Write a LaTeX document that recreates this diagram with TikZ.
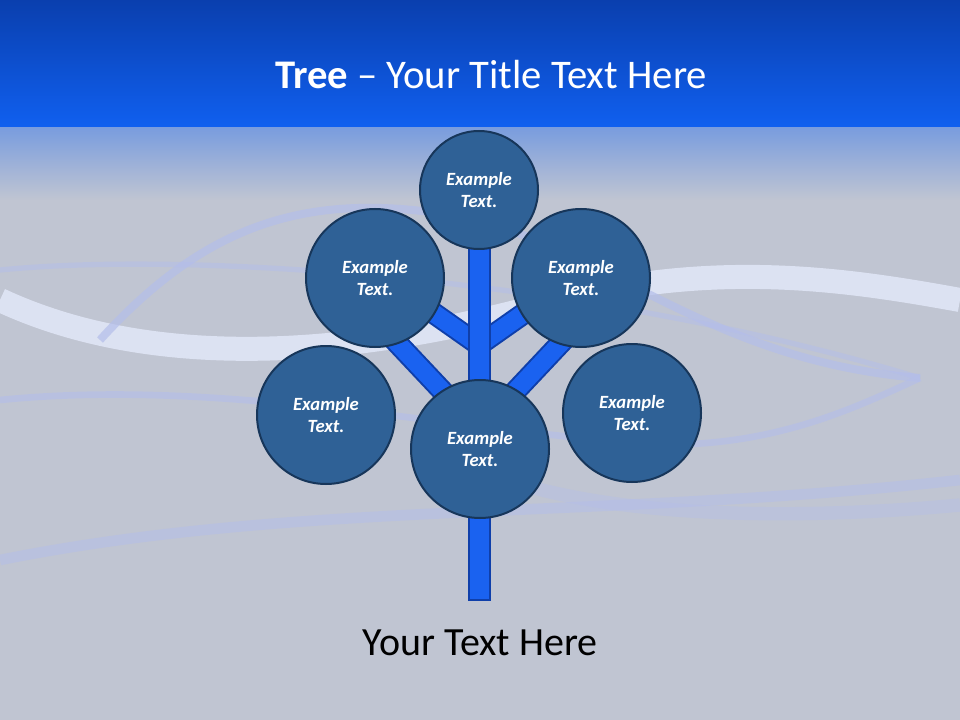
\documentclass[tikz,border=0pt]{standalone}
\usepackage{fontspec}
\setmainfont{Carlito}
\definecolor{bgg}{HTML}{C0C5D2}
\definecolor{topb}{HTML}{0A3FAE}
\definecolor{midb}{HTML}{1060F0}
\definecolor{cfill}{HTML}{2F6196}
\definecolor{cline}{HTML}{17365A}
\definecolor{bright}{HTML}{1A62F0}
\definecolor{bdark}{HTML}{0F3FAA}
\definecolor{wave}{HTML}{E4EAFB}
\definecolor{wave2}{HTML}{B4BEEA}
\begin{document}
\begin{tikzpicture}[x=0.75pt,y=-0.75pt,
  bubble/.style={circle,draw=cline,line width=1.5pt,fill=cfill,text=white,
    font=\fontsize{14}{17}\selectfont\bfseries\itshape,align=center,inner sep=0pt},
  limb/.style={draw=bdark,line width=16.5pt,line cap=butt},
  limbin/.style={draw=bright,line width=13.5pt,line cap=butt}]
\useasboundingbox (0,0) rectangle (960,720);
\fill[bgg] (0,0) rectangle (960,720);
\shade[top color=topb,bottom color=midb] (0,0) rectangle (960,128);
\shade[top color=midb!40!bgg,bottom color=bgg] (0,128) rectangle (960,200);
% waves
\draw[wave,line width=18pt,opacity=0.8] (0,300) .. controls (150,370) and (350,360) .. (560,300) .. controls (720,260) and (850,280) .. (960,300);
\draw[wave2,line width=6pt,opacity=0.7] (100,340) .. controls (200,230) and (300,190) .. (450,215) .. controls (600,240) and (700,360) .. (920,378);
\draw[wave2,line width=5pt,opacity=0.6] (0,400) .. controls (200,380) and (400,420) .. (600,440) .. controls (750,460) and (850,410) .. (920,378);
\draw[wave2,line width=8pt,opacity=0.5] (0,560) .. controls (300,500) and (600,520) .. (960,480);
\draw[wave2,line width=4pt,opacity=0.5] (0,270) .. controls (200,250) and (600,280) .. (920,378);
\draw[wave2,line width=10pt,opacity=0.4] (480,470) .. controls (600,520) and (800,520) .. (960,505);
% tree
\coordinate (ua) at (479,345);
\coordinate (ul) at (415,300);
\coordinate (ur) at (543,300);
\coordinate (la) at (465,415);
\coordinate (ll) at (385,330);
\coordinate (lb) at (493,415);
\coordinate (lr) at (573,330);
\foreach \a/\b in {ua/ul,ua/ur,la/ll,lb/lr}{\draw[limb] (\a)--(\b);}
\foreach \a/\b in {ua/ul,ua/ur,la/ll,lb/lr}{\draw[limbin] (\a)--(\b);}
\fill[bdark] (468,240) rectangle (491,601);
\fill[bright] (470,240) rectangle (489,599);
\node[bubble,minimum size=118pt*0.75] (t) at (479,190) {Example\\Text.};
\node[bubble,minimum size=138pt*0.75] (a) at (375,278) {Example\\Text.};
\node[bubble,minimum size=138pt*0.75] (b) at (581,278) {Example\\Text.};
\node[bubble,minimum size=138pt*0.75] (c) at (326,415) {Example\\Text.};
\node[bubble,minimum size=138pt*0.75] (d) at (632,413) {Example\\Text.};
\node[bubble,minimum size=138pt*0.75] (e) at (480,449) {Example\\Text.};
\node[text=white,font=\fontsize{30.5}{34}\selectfont] (title) at (491,75) {\textbf{Tree} – Your Title Text Here};
\node[text=black,font=\fontsize{30}{34}\selectfont] (foot) at (480,643) {Your Text Here};
\end{tikzpicture}
\end{document}
